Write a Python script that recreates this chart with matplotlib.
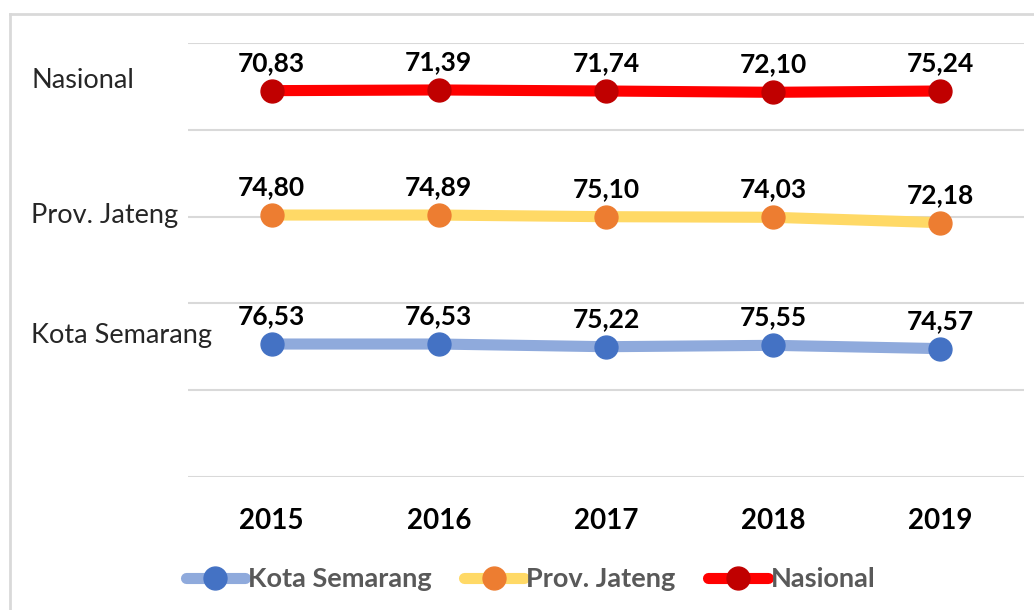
import matplotlib
matplotlib.use("Agg")
import matplotlib.pyplot as plt
from matplotlib.lines import Line2D

# ---- data ----
years = ["2015", "2016", "2017", "2018", "2019"]
series_names = ["Kota Semarang", "Prov. Jateng", "Nasional"]

kota_labels = ["76,53", "76,53", "75,22", "75,55", "74,57"]
jateng_labels = ["74,80", "74,89", "75,10", "74,03", "72,18"]
nasional_labels = ["70,83", "71,39", "71,74", "72,10", "75,24"]

# plotted band positions (chart value axis 0-5)
kota_pos = [1.532, 1.532, 1.501, 1.517, 1.479]
jateng_pos = [3.018, 3.018, 2.999, 2.992, 2.930]
nasional_pos = [4.451, 4.459, 4.447, 4.432, 4.447]

plt.rcParams['font.family'] = ['Lato', 'DejaVu Sans']

W, H = 1034, 610
fig = plt.figure(figsize=(W / 100, H / 100), dpi=100)
ax = fig.add_axes([188 / W, 1 - 477 / H, (1024 - 188) / W, (477 - 43) / H])

line_cols = ["#8FAADC", "#FFD966", "#FF0000"]
mark_cols = ["#4472C4", "#ED7D31", "#C00000"]
all_pos = [kota_pos, jateng_pos, nasional_pos]
all_labels = [kota_labels, jateng_labels, nasional_labels]

x = list(range(len(years)))
handles = []
for name, pos, labs, lc, mc in zip(series_names, all_pos, all_labels, line_cols, mark_cols):
    ax.plot(x, pos, color=lc, lw=8, solid_capstyle='round', zorder=3)
    ax.plot(x, pos, ls='none', marker='o', ms=16.5, color=mc, mec=mc, zorder=4)
    for xi, yi, t in zip(x, pos, labs):
        ax.annotate(t, (xi, yi), xytext=(0, 11.5), textcoords='offset points',
                    ha='center', va='bottom', fontsize=19, fontweight='bold',
                    color='black', zorder=5)
    handles.append(Line2D([], [], color=lc, lw=8, marker='o', ms=16.5,
                          markerfacecolor=mc, markeredgecolor=mc,
                          solid_capstyle='round'))

ax.set_xlim(-0.5, len(years) - 0.5)
ax.set_ylim(0, 5)
ax.set_yticks([0, 1, 2, 3, 4, 5])
ax.set_yticklabels([])
ax.tick_params(axis='y', length=0)
ax.grid(axis='y', color='#D9D9D9', lw=1.5)
ax.set_axisbelow(True)
ax.set_xticks(x)
ax.set_xticklabels(years, fontsize=20, fontweight='bold')
ax.tick_params(axis='x', length=0, pad=22)
for s in ax.spines.values():
    s.set_visible(False)

# category labels on the left
for name, yy in zip(series_names, [1 - 336 / H, 1 - 216 / H, 1 - 80 / H]):
    fig.text(31 / W, yy, name, fontsize=19.5, color='#262626', ha='left', va='center')

# legend
leg = fig.legend(handles, series_names, loc='center', bbox_to_anchor=(0.513, 1 - 579 / H),
                 ncol=3, frameon=False, handlelength=2.2, handletextpad=0.1,
                 columnspacing=1.2, prop={'weight': 'bold', 'size': 19.5})
for t in leg.get_texts():
    t.set_color('#595959')

# outer frame (partial, as in crop)
fig.add_artist(Line2D([10 / W, 10 / W], [0, 1 - 14 / H], transform=fig.transFigure,
                      color='#D9D9D9', lw=2))
fig.add_artist(Line2D([10 / W, 1], [1 - 14 / H, 1 - 14 / H], transform=fig.transFigure,
                      color='#D9D9D9', lw=2))

fig.savefig("out.png", dpi=100, facecolor='white')
